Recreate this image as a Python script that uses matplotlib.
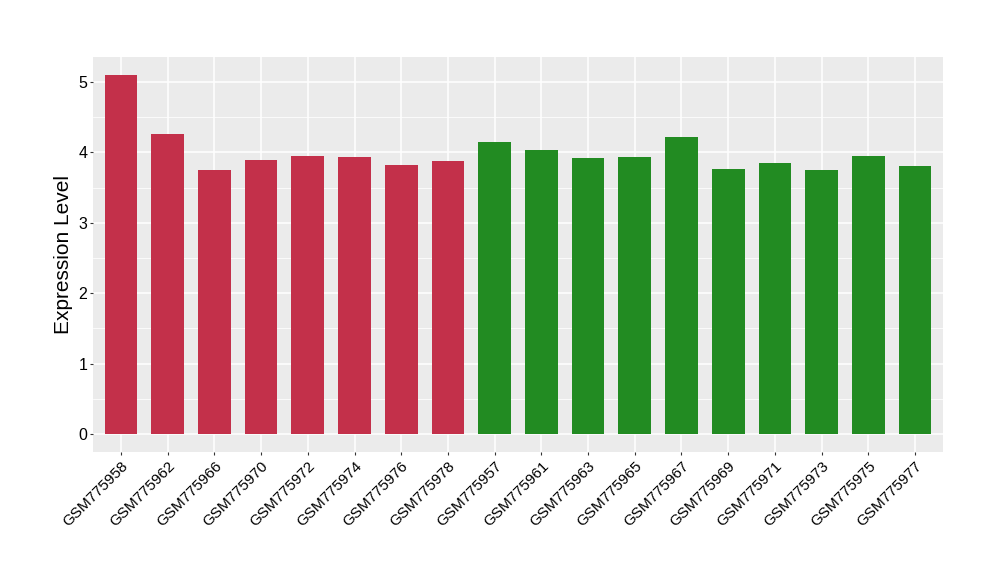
import matplotlib

matplotlib.use("Agg")
import numpy as np
from matplotlib import pyplot as plt
from matplotlib.ticker import MultipleLocator

plt.rcParams["font.family"] = ["Liberation Sans", "DejaVu Sans"]

# * DATA

samples = [
    "GSM775958", "GSM775962", "GSM775966", "GSM775970", "GSM775972",
    "GSM775974", "GSM775976", "GSM775978", "GSM775957", "GSM775961",
    "GSM775963", "GSM775965", "GSM775967", "GSM775969", "GSM775971",
    "GSM775973", "GSM775975", "GSM775977",
]
expression = [
    5.10, 4.26, 3.75, 3.89, 3.95, 3.94, 3.82, 3.88, 4.15,
    4.04, 3.92, 3.94, 4.22, 3.77, 3.85, 3.75, 3.95, 3.80,
]
groups = ["a"] * 8 + ["b"] * 10
group_colors = {"a": "#C3304A", "b": "#228B22"}

# * PLOT

fig = plt.figure(figsize=(10, 5.8), dpi=100)
ax = fig.add_axes([0.093, 0.2207, 0.850, 0.681])
ax.set_facecolor("#EBEBEB")

x = np.arange(1, len(samples) + 1)
ax.bar(
    x,
    expression,
    width=0.7,
    color=[group_colors[g] for g in groups],
    zorder=3,
)

ymax = max(expression)
ax.set_xlim(0.4, len(samples) + 0.6)
ax.set_ylim(-0.05 * ymax, ymax * 1.05)

ax.yaxis.set_major_locator(MultipleLocator(1))
ax.yaxis.set_minor_locator(MultipleLocator(0.5))
ax.set_xticks(x)
ax.set_xticklabels(samples, rotation=45, ha="right", rotation_mode="anchor", fontsize=11)
ax.tick_params(axis="y", labelsize=11.5, pad=1.5)
ax.tick_params(axis="x", pad=2.5)
ax.tick_params(which="major", length=2.5, width=0.8, color="#333333", labelcolor="black")
ax.tick_params(which="minor", length=0)

ax.grid(which="major", color="white", linewidth=1.1, zorder=0)
ax.grid(which="minor", axis="y", color="white", linewidth=0.55, zorder=0)
ax.set_axisbelow(True)
for spine in ax.spines.values():
    spine.set_visible(False)

ax.set_ylabel("Expression Level", fontsize=15, labelpad=4)

fig.savefig("out.png", dpi=100)
